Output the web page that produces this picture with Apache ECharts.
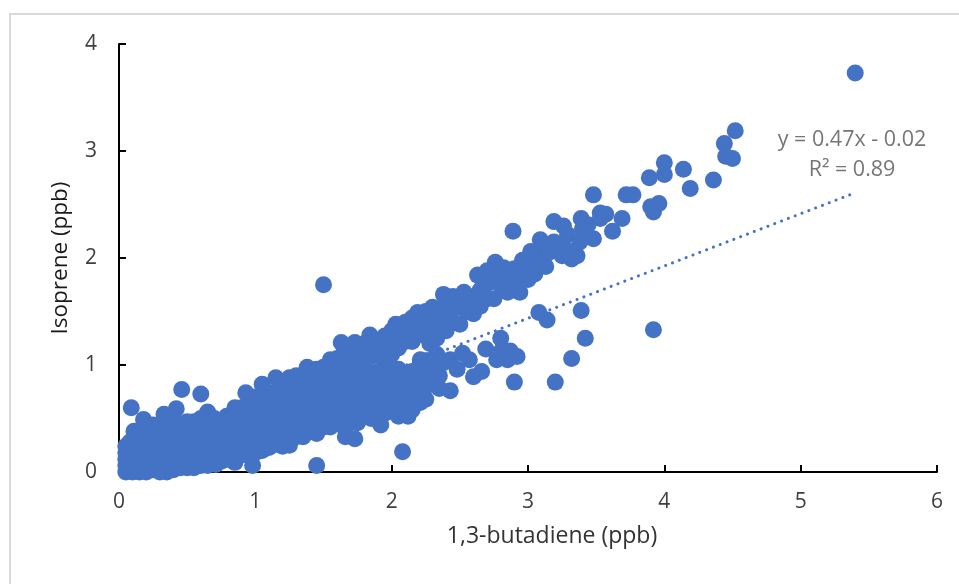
<!DOCTYPE html>
<html><head><meta charset="utf-8">
<style>html,body{margin:0;padding:0;background:#fff}#c{width:959px;height:584px}</style>
<script src="https://cdn.jsdelivr.net/npm/echarts@6/dist/echarts.min.js"></script>
</head><body><div id="c"></div>
<script>
const xTicks = [0,1,2,3,4,5,6];
const yTicks = [0,1,2,3,4];
const lowCluster = [
[0.05,0],[0.05,0.06],[0.05,0.12],[0.05,0.18],[0.05,0.24],[0.08,0.28],[0.11,0.38],
[0.15,0],[0.15,0.1],[0.15,0.2],[0.15,0.3],[0.18,0.49],[0.2,0.38],
[0.25,0.02],[0.25,0.12],[0.25,0.24],[0.25,0.34],
[0.35,0],[0.35,0.1],[0.35,0.22],[0.35,0.34],[0.33,0.46],[0.33,0.54],
[0.45,0.04],[0.45,0.16],[0.45,0.28],[0.45,0.4],[0.42,0.59],[0.4,0.5],
[0.55,0.04],[0.55,0.1],[0.55,0.22],[0.55,0.34],[0.55,0.47],
[0.65,0.06],[0.65,0.16],[0.65,0.28],[0.65,0.4],[0.65,0.56],[0.65,0.48],
[0.71,0.07],[0.75,0.1],[0.75,0.22],[0.75,0.34],[0.75,0.46],[0.79,0.52],
[0.85,0.09],[0.85,0.16],[0.85,0.28],[0.85,0.4],[0.85,0.52],[0.85,0.6],
[0.98,0.06],[0.95,0.18],[0.95,0.3],[0.95,0.42],[0.95,0.54],[0.95,0.66],
[1.05,0.2],[1.05,0.32],[1.05,0.44],[1.05,0.56],[1.05,0.68],[1.05,0.82]
];
const lowFill = [
[0.1,0.05],[0.1,0.15],[0.1,0.25],[0.2,0.06],[0.2,0.16],[0.2,0.28],[0.3,0.06],[0.3,0.17],[0.3,0.29],[0.3,0.4],
[0.4,0.08],[0.4,0.2],[0.4,0.32],[0.4,0.44],[0.5,0.1],[0.5,0.22],[0.5,0.34],[0.5,0.43],[0.6,0.12],[0.6,0.22],[0.6,0.34],[0.6,0.44],
[0.7,0.13],[0.7,0.22],[0.7,0.34],[0.7,0.46],[0.8,0.16],[0.8,0.28],[0.8,0.4],[0.8,0.48],[0.9,0.18],[0.9,0.24],[0.9,0.36],[0.9,0.48],[0.9,0.6],
[1.0,0.25],[1.0,0.36],[1.0,0.48],[1.0,0.6],[1.0,0.7],[1.1,0.26],[1.1,0.38],[1.1,0.5],[1.1,0.62],[1.1,0.74],
[0.12,0.1],[0.22,0.1],[0.28,0.2],[0.38,0.14],[0.48,0.1],[0.5,0.16],[0.58,0.16],[0.68,0.2],[0.78,0.26],[0.88,0.32],
[0.1,0],[0.2,0],[0.3,0],[0.4,0.02],[0.5,0.04],[0.6,0.06],[0.7,0.1],[0.8,0.12],[0.9,0.16],[1.0,0.18],[1.1,0.23],[1.2,0.24],
[0.25,0.44],[0.5,0.47],[0.6,0.5],[0.7,0.5]
];
const midCluster = [
[1.15,0.26],[1.15,0.38],[1.15,0.5],[1.15,0.62],[1.15,0.74],[1.15,0.88],
[1.25,0.25],[1.25,0.39],[1.25,0.51],[1.25,0.63],[1.25,0.75],[1.25,0.88],
[1.35,0.33],[1.35,0.45],[1.35,0.57],[1.35,0.69],[1.35,0.81],[1.38,0.98],
[1.45,0.36],[1.45,0.48],[1.45,0.6],[1.45,0.72],[1.45,0.84],[1.45,0.96],
[1.55,0.42],[1.55,0.54],[1.55,0.66],[1.55,0.78],[1.55,0.9],[1.55,1.05],
[1.66,0.33],[1.65,0.42],[1.65,0.54],[1.65,0.66],[1.65,0.78],[1.65,0.9],[1.65,1.02],[1.63,1.21],[1.65,1.12],
[1.73,0.31],[1.75,0.46],[1.75,0.58],[1.75,0.7],[1.75,0.82],[1.75,0.94],[1.75,1.06],[1.73,1.21],[1.75,1.14],
[1.85,0.5],[1.85,0.62],[1.85,0.74],[1.85,0.86],[1.85,1.08],[1.84,1.28],[1.85,1.18],
[1.92,0.44],[1.95,0.55],[1.95,0.67],[1.95,0.79],[1.95,0.91],[1.95,1.03],[1.95,1.15],[1.95,1.27],
[2.05,0.52],[2.05,0.6],[2.05,0.72],[2.05,0.84],[2.05,0.96],[2.05,1.16],[2.05,1.28],[2.03,1.38],
[2.12,0.52],[2.15,0.58],[2.15,0.7],[2.15,0.82],[2.15,0.94],[2.15,1.22],[2.15,1.34],[2.15,1.44],
[2.25,0.68],[2.25,0.8],[2.25,0.92],[2.25,1.04],[2.25,1.28],[2.25,1.4],[2.25,1.5],
[2.35,0.78],[2.35,0.9],[2.35,1.06],[2.35,1.34],[2.35,1.46],[2.38,1.66]
];
const midFill = [
[1.2,0.31],[1.2,0.44],[1.2,0.56],[1.2,0.68],[1.2,0.8],[1.3,0.33],[1.3,0.45],[1.3,0.57],[1.3,0.69],[1.3,0.81],[1.3,0.9],
[1.4,0.39],[1.4,0.51],[1.4,0.63],[1.4,0.75],[1.4,0.87],[1.5,0.42],[1.5,0.54],[1.5,0.66],[1.5,0.78],[1.5,0.9],[1.5,0.98],
[1.6,0.46],[1.6,0.6],[1.6,0.72],[1.6,0.84],[1.6,0.96],[1.6,1.06],[1.7,0.46],[1.7,0.6],[1.7,0.72],[1.7,0.84],[1.7,0.96],[1.7,1.08],
[1.8,0.52],[1.8,0.64],[1.8,0.76],[1.8,0.88],[1.8,1.0],[1.8,1.12],[1.8,1.2],[1.9,0.58],[1.9,0.7],[1.9,0.82],[1.9,0.94],[1.9,1.1],[1.9,1.22],
[2.0,0.62],[2.0,0.74],[2.0,0.86],[2.0,0.98],[2.0,1.1],[2.0,1.22],[2.0,1.32],[2.1,0.66],[2.1,0.78],[2.1,0.9],[2.1,1.22],[2.1,1.34],[2.1,1.4],
[2.2,0.74],[2.2,0.86],[2.2,0.98],[2.2,1.28],[2.2,1.4],[2.19,1.49],[2.3,0.86],[2.3,0.98],[2.3,1.34],[2.3,1.46],[2.3,1.54],[2.4,1.4],[2.4,1.52],[2.4,1.62],
[2.28,1.2],[2.33,1.25],[2.4,1.32]
];
const upperBand = [
[2.45,1.4],[2.45,1.52],[2.45,1.64],[2.55,1.5],[2.55,1.62],[2.53,1.68],[2.5,1.38],[2.5,1.58],[2.6,1.48],[2.6,1.64],[2.7,1.62],[2.7,1.76],
[2.65,1.55],[2.65,1.7],[2.63,1.84],[2.75,1.62],[2.75,1.8],[2.76,1.96],[2.7,1.88],[2.8,1.74],[2.8,1.86],[2.9,1.78],[2.9,1.9],
[2.85,1.68],[2.85,1.82],[2.82,1.91],[2.94,1.68],[2.95,1.84],[2.96,1.98],[3.0,1.8],[3.0,1.92],[3.1,2.0],[3.1,2.08],
[3.05,1.85],[3.05,2.0],[3.09,2.17],[3.13,1.92],[3.15,2.05],[3.19,2.15],[3.2,2.08],[3.02,2.06],
[3.25,2.02],[3.25,2.12],[3.19,2.34],[3.26,2.3],[3.29,2.22],[3.28,2.08],
[3.32,1.99],[3.36,2.02],[3.38,2.15],[3.4,2.27],[3.39,2.37],[3.44,2.31],[3.48,2.18]
];
const lowerBranch = [
[2.21,1.05],[2.33,1.1],[2.43,1.05],[2.52,1.11],[2.57,1.05],[2.48,0.96],[2.31,0.84],[2.43,0.76],[2.21,0.65],[2.27,1.04],[2.38,1.02],
[2.6,0.89],[2.66,0.94],[2.69,1.15],[2.77,1.05],[2.85,1.05],[2.81,1.14],[2.87,1.13],[2.92,1.08],[2.8,1.25]
];
const outliers = [
[0.09,0.6],[0.46,0.77],[0.6,0.73],[0.93,0.74],[1.45,0.06],[2.08,0.19],[1.5,1.75],
[2.89,2.25],[2.9,0.84],[3.2,0.84],[3.32,1.06],[3.42,1.25],[3.92,1.33],[3.39,1.51],[3.08,1.49],[3.14,1.42],
[3.48,2.59],[3.72,2.59],[3.77,2.59],[3.53,2.42],[3.57,2.41],[3.53,2.37],[3.69,2.37],[3.62,2.25],
[3.89,2.75],[3.96,2.51],[3.9,2.48],[3.92,2.43],[4.0,2.89],[4.0,2.78],[4.14,2.83],[4.19,2.65],[4.36,2.73],
[4.44,3.07],[4.45,2.95],[4.5,2.93],[4.52,3.19],[5.4,3.73]
];
const trendLine = [[0.06,0],[5.36,2.59]];
const trendLabels = ['y = 0.47x - 0.02','R² = 0.89'];
const axisNames = {x:'1,3-butadiene (ppb)', y:'Isoprene (ppb)'};

const blue='#4472C4', font='"Open Sans", "Noto Sans", sans-serif';
const axisLine={show:true,onZero:false,lineStyle:{color:'#000',width:2}};
const dots=d=>({type:'scatter',clip:false,symbolSize:17,itemStyle:{color:blue,opacity:1},data:d});
const chart=echarts.init(document.getElementById('c'),null,{renderer:'canvas'});
chart.setOption({
  animation:false,
  backgroundColor:'#fff',
  grid:{left:119,right:22,top:44,bottom:112,containLabel:false},
  xAxis:{type:'value',min:xTicks[0],max:xTicks[xTicks.length-1],interval:1,name:axisNames.x,nameLocation:'middle',nameGap:53,
    nameTextStyle:{fontFamily:font,fontSize:23,color:'#333',padding:[0,0,0,48]},
    axisLine,axisTick:{show:true,inside:true,length:7,lineStyle:{color:'#000',width:2}},splitLine:{show:false},
    axisLabel:{fontFamily:font,fontSize:21,color:'#404040',margin:20}},
  yAxis:{type:'value',min:yTicks[0],max:yTicks[yTicks.length-1],interval:1,name:axisNames.y,nameLocation:'middle',nameGap:47,
    nameTextStyle:{fontFamily:font,fontSize:22.5,color:'#1a1a1a'},
    axisLine,axisTick:{show:true,inside:true,length:7,lineStyle:{color:'#000',width:2}},splitLine:{show:false},
    axisLabel:{fontFamily:font,fontSize:21,color:'#404040',margin:22}},
  graphic:[
    {type:'rect',z:-10,shape:{x:10,y:14,width:970,height:600},style:{fill:'#fff',stroke:'#d9d9d9',lineWidth:2}},
    {type:'text',z:10,x:852,y:140,style:{text:trendLabels[0],fontFamily:font,fontSize:21.5,fill:'#767676',align:'center',verticalAlign:'middle'}},
    {type:'text',z:10,x:852,y:170,style:{text:trendLabels[1],fontFamily:font,fontSize:21.5,fill:'#767676',align:'center',verticalAlign:'middle'}}
  ],
  series:[
    dots(lowCluster),dots(lowFill),dots(midCluster),dots(midFill),dots(upperBand),dots(lowerBranch),dots(outliers),
    {type:'line',data:trendLine,symbol:'none',silent:true,lineStyle:{color:blue,width:3,type:[0.1,7.2],cap:'round'}}
  ]
});
</script></body></html>
